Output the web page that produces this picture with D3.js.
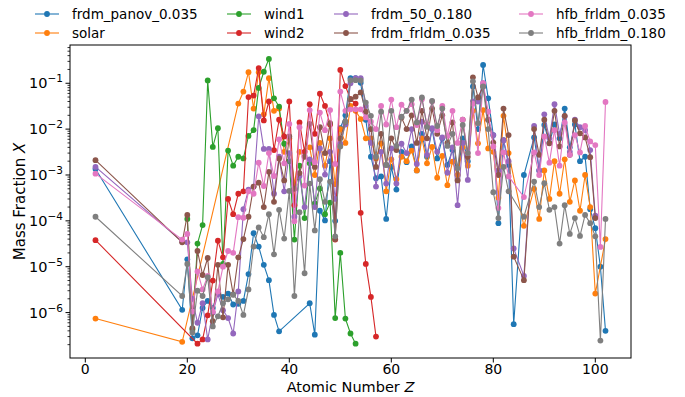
<!DOCTYPE html>
<html><head><meta charset="utf-8">
<script src="https://cdn.jsdelivr.net/npm/d3@7/dist/d3.min.js"></script>
<style>body{margin:0;background:#fff}text{font-family:"DejaVu Sans",sans-serif;fill:#000}</style>
</head><body>
<svg id="c" width="685" height="397"></svg>
<script>
// ---- data ----
const seriesNames = ["frdm_panov_0.035","solar","wind1","wind2","frdm_50_0.180","frdm_frldm_0.035","hfb_frldm_0.035","hfb_frldm_0.180"];
const seriesColors = ["#1f77b4","#ff7f0e","#2ca02c","#d62728","#9467bd","#8c564b","#e377c2","#7f7f7f"];
const xTicks = [0,20,40,60,80,100];
const yTicks = [1e-6,1e-5,1e-4,1e-3,1e-2,1e-1];
const yTickExps = ["\u22126","\u22125","\u22124","\u22123","\u22122","\u22121"];

const zPanov = [2,19,20,21,22,23,24,25,26,27,28,29,30,31,32,33,34,35,36,37,38,44,45,46,47,48,49,50,51,52,53,54,55,56,57,58,59,60,61,62,63,64,65,66,67,68,69,70,71,72,73,74,75,76,77,78,79,80,81,82,83,84,86,88,89,90,91,92,93,94,95,96,97,98,99,100,101,102];
const xPanov = [1.35e-3,1.15e-6,1.45e-5,2.75e-7,3.2e-7,1.26e-6,1.8e-6,1.26e-6,2.8e-6,2.2e-6,2.6e-6,1.5e-6,1.55e-6,1.8e-6,6.9e-6,5.4e-5,2.75e-5,1.1e-5,5.1e-6,8.9e-7,3.9e-7,
 1.6e-6,3.3e-7,1.66e-4,1.02e-4,2.0e-3,1.0e-4,1.05e-2,2.0e-2,0.129,0.129,0.102,1.6e-2,2.5e-3,8.5e-4,9.3e-4,1.1e-4,1.5e-3,4.8e-4,3.2e-3,1.9e-3,4.2e-3,1.26e-3,7.9e-3,2.5e-3,1.0e-2,2.3e-3,6.3e-3,1.66e-3,3.5e-3,1.0e-3,6.3e-3,2.0e-3,8.5e-2,1.0e-2,0.25,4.7e-2,7.4e-3,8.9e-5,5.75e-3,1.66e-3,5.6e-7,
 1.0e-3,6.6e-3,1.26e-3,1.23e-2,5.0e-3,1.26e-2,6.3e-3,2.8e-2,4.0e-3,1.26e-2,2.0e-3,2.5e-3,1.8e-4,6.9e-5,1.0e-5,4.0e-7];

const zSolar = [2,19,30,31,32,33,34,35,36,37,38,39,40,41,42,44,45,46,47,48,49,50,51,52,53,54,55,56,57,58,59,60,61,62,63,64,65,66,67,68,69,70,71,72,73,74,75,76,77,78,79,80,81,82,83,86,88,89,90,91,92,93,94,95,96,97,98,99,100,102];
const xSolar = [7.4e-7,2.3e-7,3.6e-2,6.6e-2,0.174,2.8e-2,0.174,2.1e-2,0.129,2.5e-2,2.8e-2,3.2e-3,6.3e-3,6.3e-4,3.2e-3,
 4.0e-3,1.0e-3,5.0e-3,1.6e-3,6.3e-3,6.3e-4,1.0e-2,5.0e-3,3.2e-2,2.5e-2,1.66e-2,6.3e-3,6.3e-3,2.3e-3,4.9e-3,4.4e-4,2.2e-3,8.1e-4,2.5e-3,2.0e-3,3.4e-3,1.26e-3,6.3e-3,1.8e-3,4.1e-3,8.7e-4,2.6e-3,6.0e-4,1.95e-3,1.0e-3,4.0e-3,1.6e-3,2.5e-2,4.9e-3,2.6e-2,3.8e-3,3.2e-3,3.2e-4,1.95e-2,3.0e-3,
 7.8e-5,5.0e-4,1.1e-4,1.26e-3,3.0e-4,2.0e-3,3.9e-4,2.2e-3,2.6e-4,7.6e-4,1.66e-4,1.0e-3,2.0e-4,2.6e-6,4.0e-5];

const zWind1 = [20,21,22,23,24,25,26,27,28,29,30,31,32,33,34,35,36,37,38,39,40,41,42,43,44,45,46,47,48,49,50,51,52,53];
const xWind1 = [1.1e-4,4.3e-7,3.2e-5,8.1e-5,0.115,4.1e-3,1.05e-2,1.15e-5,3.4e-3,1.6e-3,2.5e-3,2.3e-3,7.1e-3,9.5e-3,7.9e-2,0.178,0.34,4.7e-2,3.1e-2,4.8e-3,2.0e-3,3.9e-5,1.6e-3,1.15e-4,1.8e-3,2.4e-4,5.1e-4,1.4e-4,2.5e-4,7.6e-7,2.0e-5,7.4e-7,3.5e-7,2.1e-7];

const zWind2 = [2,22,23,24,25,26,27,28,29,30,31,32,33,34,35,36,37,38,39,40,41,42,43,44,45,46,47,48,49,50,51,52,53,54,55,56,57];
const xWind2 = [3.8e-5,2.1e-7,2.6e-7,8.7e-7,5.0e-6,3.7e-5,1.6e-5,3.0e-4,1.4e-4,3.9e-4,4.4e-4,5.0e-2,5.4e-2,0.214,1.55e-2,4.0e-2,3.5e-3,1.6e-2,6.9e-3,4.0e-2,2.2e-4,1.4e-2,3.2e-3,3.5e-2,7.9e-3,5.9e-2,3.2e-2,1.26e-2,3.9e-5,0.195,8.7e-2,4.5e-2,3.6e-2,1.5e-4,1.15e-5,2.2e-6,3.0e-7];

const zFrdm = [2,19,20,21,22,23,24,25,26,27,28,29,30,31,32,33,34,35,36,37,38,39,40,41,42,43,44,45,46,47,48,49,50,51,52,53,54,55,56,57,58,59,60,61,62,63,64,65,66,67,68,69,70,71,72,73,74,75,76,77,78,79,80,81,82,83,84,86,88,89,90,91,92,93,94,95,96,97,98,99,100];
const xFrdm50 = [1.5e-3,3.5e-5,3.4e-5,2.0e-6,6.0e-7,1.6e-6,2.6e-7,1.0e-6,2.5e-6,1.12e-6,7.6e-7,3.5e-7,2.9e-6,1.8e-4,4.8e-4,5.6e-4,1.9e-2,3.7e-3,3.7e-3,3.9e-4,2.5e-3,4.4e-4,3.0e-3,1.23e-4,9.5e-4,2.0e-4,2.2e-3,2.0e-4,3.8e-3,1.02e-3,3.2e-3,3.0e-4,4.8e-3,1.26e-2,0.1,0.129,0.129,3.2e-2,5.0e-3,5.6e-4,3.2e-3,6.5e-4,3.8e-3,6.5e-4,4.8e-3,3.0e-3,1.0e-2,1.74e-3,1.45e-2,2.75e-3,1.05e-2,3.2e-3,6.6e-3,1.12e-3,4.0e-3,2.2e-4,5.0e-3,7.8e-4,4.0e-2,4.0e-2,0.1,1.6e-2,7.4e-3,1.26e-3,5.75e-3,2.0e-3,2.5e-5,
 6.3e-6,1.17e-2,1.26e-3,2.1e-2,6.3e-3,3.5e-2,7.9e-3,1.9e-2,3.2e-3,1.6e-2,1.1e-2,9.5e-3,3.5e-3,1.3e-4];
const xFrdmFrldm = [2.1e-3,3.4e-5,1.35e-4,4.6e-7,2.2e-5,6.6e-6,1.55e-5,6.5e-7,1.1e-5,7.9e-7,1.1e-5,2.5e-6,1.6e-5,4.0e-5,1.23e-4,5.6e-4,6.8e-4,2.0e-4,1.17e-3,2.6e-4,2.3e-3,7.6e-4,6.9e-3,5.0e-4,1.1e-3,2.5e-3,1.3e-2,1.5e-3,1.1e-2,3.0e-3,1.35e-2,4.0e-5,6.3e-3,1.45e-2,4.5e-2,5.1e-2,6.3e-2,2.4e-2,1.0e-2,1.5e-3,7.9e-3,1.66e-3,6.3e-3,3.5e-3,1.8e-2,1.0e-2,2.0e-2,5.0e-3,2.5e-2,6.3e-3,2.8e-2,7.9e-3,2.0e-2,5.0e-3,1.4e-2,7.6e-4,1.6e-2,2.5e-3,0.135,4.9e-2,8.5e-2,1.6e-2,5.1e-3,1.0e-3,2.8e-2,7.4e-3,1.66e-5,
 5.1e-6,1.0e-2,2.75e-3,1.6e-2,4.9e-3,2.5e-2,4.2e-3,1.95e-2,2.75e-3,1.55e-2,8.1e-3,6.6e-3,2.45e-3,1.15e-4];

const zHfb = [2,19,20,21,22,23,24,25,26,27,28,29,30,31,32,33,34,35,36,37,38,39,40,41,42,43,44,45,46,47,48,49,50,51,52,53,54,55,56,57,58,59,60,61,62,63,64,65,66,67,68,69,70,71,72,73,74,75,76,77,78,79,80,81,82,83,86,88,89,90,91,92,93,94,95,96,97,98,99,100,101,102];
const xHfb035 = [1.07e-3,3.9e-5,5.2e-5,1.05e-6,7.9e-6,3.2e-6,6.3e-6,1.05e-6,2.9e-6,1.0e-5,2.2e-5,2.0e-5,1.2e-4,1.17e-4,4.4e-4,3.9e-4,1.86e-3,5.75e-4,3.0e-3,9.5e-4,6.0e-3,1.8e-3,1.3e-2,9.8e-5,1.1e-2,5.9e-4,2.6e-2,1.9e-3,2.3e-2,9.5e-3,2.6e-2,1.74e-3,6.6e-2,2.5e-2,2.7e-2,2.7e-2,2.7e-2,1.8e-2,1.45e-2,1.0e-2,3.2e-2,1.26e-2,4.4e-2,1.1e-2,3.4e-2,2.5e-2,3.5e-2,1.23e-2,4.5e-2,1.26e-2,4.0e-2,9.5e-3,3.2e-2,7.1e-3,2.5e-2,5.0e-3,1.6e-2,3.0e-3,3.6e-2,3.0e-3,0.1,2.4e-2,4.2e-3,1.9e-4,3.1e-3,9.3e-4,
 3.3e-4,3.1e-3,1.0e-3,6.9e-3,1.86e-3,9.5e-3,1.6e-3,1.4e-2,2.75e-3,7.4e-3,3.1e-3,1.17e-2,5.4e-3,4.5e-3,2.7e-5,3.9e-2];
const xHfb180 = [1.23e-4,2.3e-6,1.15e-5,3.7e-7,3.0e-6,2.3e-6,5.9e-6,5.0e-7,8.3e-7,1.6e-6,1.95e-6,2.45e-6,1.8e-6,8.9e-7,3.2e-6,2.75e-5,7.2e-5,4.4e-5,1.4e-4,1.86e-5,1.74e-4,4.1e-5,4.5e-4,2.3e-6,1.55e-4,7.2e-6,6.5e-4,6.2e-5,8.1e-4,2.6e-4,7.2e-4,4.6e-5,4.2e-3,1.45e-2,0.117,0.117,0.115,3.8e-2,1.95e-2,2.5e-3,2.4e-2,1.66e-3,2.5e-2,4.3e-3,1.86e-2,2.5e-2,4.4e-2,1.4e-2,4.9e-2,1.12e-2,4.1e-2,1.17e-2,2.8e-2,4.3e-3,7.9e-3,1.4e-3,1.23e-2,3.0e-3,0.11,1.35e-2,8.5e-2,1.0e-2,4.2e-4,1.15e-4,1.5e-3,4.4e-4,
 1.23e-4,7.2e-4,2.0e-4,6.6e-4,1.74e-4,2.0e-4,3.2e-5,2.2e-4,5.2e-5,1.15e-4,4.7e-5,1.35e-4,8.9e-5,4.6e-5,2.45e-7,1.1e-4];

const seriesZ = [zPanov,zSolar,zWind1,zWind2,zFrdm,zFrdm,zHfb,zHfb];
const seriesX = [xPanov,xSolar,xWind1,xWind2,xFrdm50,xFrdmFrldm,xHfb035,xHfb180];

// ---- chart ----
const svg = d3.select("#c");
const L = 70, R = 631, T = 45, B = 358;
const x = d3.scaleLinear().domain([-3,107]).range([L,R]);
const y = d3.scaleLog().domain([Math.pow(10,-6.99), Math.pow(10,-0.166)]).range([B,T]);

const plot = svg.append("g");
const line = d3.line().x(d=>x(d[0])).y(d=>y(d[1]));
seriesNames.forEach((name,i)=>{
  const pts = seriesZ[i].map((z,k)=>[z, seriesX[i][k]]).filter(d=>d[1]!==undefined);
  const g = plot.append("g");
  g.append("path").datum(pts).attr("d",line).attr("fill","none")
    .attr("stroke",seriesColors[i]).attr("stroke-width",1.1);
  g.selectAll("circle").data(pts).enter().append("circle")
    .attr("cx",d=>x(d[0])).attr("cy",d=>y(d[1])).attr("r",2.9)
    .attr("fill",seriesColors[i]);
});

// frame
svg.append("rect").attr("x",L).attr("y",T).attr("width",R-L).attr("height",B-T)
  .attr("fill","none").attr("stroke","#000").attr("stroke-width",1);

// x axis
const xa = svg.append("g");
xTicks.forEach(t=>{
  xa.append("line").attr("x1",x(t)).attr("x2",x(t)).attr("y1",B).attr("y2",B+4.5).attr("stroke","#000").attr("stroke-width",1);
  xa.append("text").attr("x",x(t)).attr("y",B+16).attr("text-anchor","middle").style("font-size","14px").text(t);
});
const xl = svg.append("text").attr("x",(L+R)/2).attr("y",392).attr("text-anchor","middle").style("font-size","14.5px");
xl.append("tspan").text("Atomic Number ");
xl.append("tspan").style("font-style","italic").text("Z");

// y axis
const ya = svg.append("g");
for(let d=-7; d<=0; d++){
  for(let k=2;k<=9;k++){
    const v = k*Math.pow(10,d);
    const lv = Math.log10(v);
    if(lv>=-6.99 && lv<=-0.166){
      ya.append("line").attr("x1",L).attr("x2",L-2.5).attr("y1",y(v)).attr("y2",y(v)).attr("stroke","#000").attr("stroke-width",0.8);
    }
  }
}
yTicks.forEach((t,i)=>{
  ya.append("line").attr("x1",L).attr("x2",L-4.5).attr("y1",y(t)).attr("y2",y(t)).attr("stroke","#000").attr("stroke-width",1);
  const tx = ya.append("text").attr("x",L-7).attr("y",y(t)+5).attr("text-anchor","end").style("font-size","14.5px");
  tx.append("tspan").text("10");
  tx.append("tspan").attr("dy",-6).style("font-size","10.5px").text(yTickExps[i]);
});
const yl = svg.append("text").attr("transform",`translate(25,${(T+B)/2}) rotate(-90)`).attr("text-anchor","middle").style("font-size","15px");
yl.append("tspan").text("Mass Fraction ");
yl.append("tspan").style("font-style","italic").text("X");

// legend
const legCols = [35,227,334,519];
const legRows = [14,33];
seriesNames.forEach((name,i)=>{
  const cx = legCols[Math.floor(i/2)], cy = legRows[i%2];
  const g = svg.append("g");
  g.append("line").attr("x1",cx).attr("x2",cx+24).attr("y1",cy).attr("y2",cy).attr("stroke",seriesColors[i]).attr("stroke-width",1.1);
  g.append("circle").attr("cx",cx+12).attr("cy",cy).attr("r",2.9).attr("fill",seriesColors[i]);
  g.append("text").attr("x",cx+37).attr("y",cy+5).style("font-size","13.5px").text(name);
});
</script>
</body></html>
